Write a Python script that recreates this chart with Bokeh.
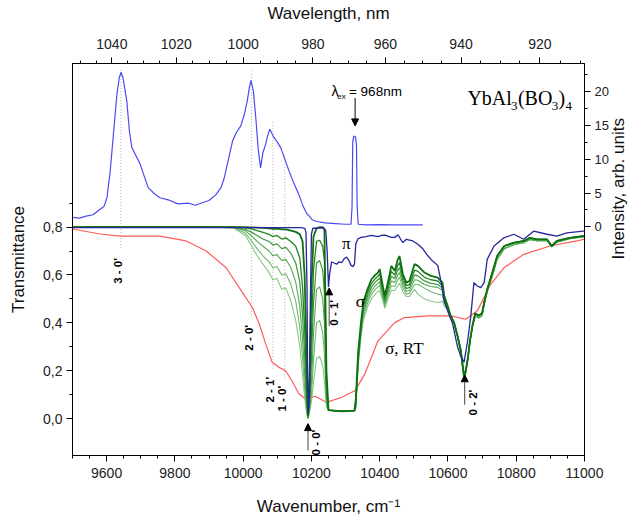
from math import pi
from bokeh.plotting import figure
from bokeh.models import (Range1d, LinearAxis, FixedTicker, CustomJSTickFormatter,
                          Arrow, NormalHead, Label)
from bokeh.embed import file_html
from bokeh.resources import INLINE

# ---------------- data ----------------
# luminescence spectrum (right axis, arb. units)
W_LUM = [9502, 9520, 9540, 9560, 9581, 9592, 9601, 9610, 9620, 9630, 9637, 9642, 9648, 9659, 9667, 9674,
         9686, 9698, 9710, 9722, 9740, 9756, 9780, 9809, 9840, 9860, 9882, 9900, 9921, 9935, 9945, 9957,
         9969, 9981, 9993, 10003, 10012, 10018, 10023, 10030, 10037, 10044, 10051, 10058, 10066, 10072,
         10078, 10084, 10090, 10100, 10110, 10122, 10134, 10148, 10163, 10176, 10187, 10194, 10201, 10215,
         10240, 10270, 10300, 10316, 10319, 10321, 10324, 10329, 10332, 10334, 10337, 10360, 10400, 10440,
         10480, 10526]
I_LUM = [1.4, 1.3, 1.6, 1.8, 2.6, 3.0, 4.3, 8.0, 13.7, 19.5, 22.0, 22.8, 22.0, 18.6, 14.0, 11.7,
         10.5, 9.3, 7.5, 5.8, 4.9, 4.3, 4.0, 3.4, 3.5, 3.2, 3.6, 3.9, 4.8, 5.8, 7.3, 10.0,
         12.7, 14.0, 14.9, 16.5, 18.6, 20.5, 21.6, 20.0, 16.1, 11.5, 8.7, 11.0, 12.2, 13.5,
         14.4, 13.8, 13.2, 12.5, 11.7, 10.0, 8.3, 6.5, 4.8, 3.0, 1.9, 1.6, 1.1, 0.8,
         0.6, 0.5, 0.4, 0.4, 3.0, 12.5, 13.4, 13.3, 12.0, 3.0, 0.4, 0.3, 0.35, 0.3,
         0.3, 0.3]

# sigma, room temperature (red)
W_RED = [9500, 9581, 9640, 9756, 9833, 9892, 9950, 9998, 10027, 10047, 10066, 10085, 10105, 10124, 10143,
         10163, 10182, 10211, 10244, 10289, 10328, 10357, 10395, 10444, 10473, 10541, 10608, 10652, 10686,
         10725, 10764, 10822, 10899, 10977, 11000]
T_RED = [.792, .771, .762, .762, .742, .70, .63, .526, .464, .396, .312, .235, .214, .20, .158,
         .104, .083, .093, .068, .089, .117, .188, .325, .401, .422, .429, .429, .415, .45,
         .561, .63, .686, .721, .742, .75]

# pi polarisation (navy)
W_PI = [9500, 10170, 10180, 10184, 10187, 10189, 10191, 10194, 10197, 10200, 10204, 10236, 10242, 10246,
        10250, 10253, 10259, 10266, 10274, 10281, 10289, 10296, 10303, 10310, 10316, 10322, 10326, 10330,
        10336, 10345, 10360, 10376, 10395, 10405, 10416, 10434, 10444, 10454, 10463, 10468, 10478, 10497,
        10512, 10527, 10541, 10555, 10570, 10580, 10589, 10604, 10613, 10628, 10637, 10647, 10657, 10667,
        10676, 10686, 10696, 10706, 10715, 10735, 10764, 10793, 10822, 10851, 10890, 10919, 10948, 10996, 11000]
T_PI = [.798, .798, .795, .78, .55, .15, .02, .10, .50, .77, .795, .797, .785, .70,
        .55, .60, .655, .65, .645, .655, .652, .668, .675, .66, .64, .635, .645, .73,
        .75, .757, .76, .765, .76, .765, .766, .757, .757, .768, .745, .735, .749, .742,
        .728, .708, .68, .658, .64, .57, .49, .43, .40, .30, .263, .235, .318, .429,
        .568, .554, .547, .568, .665, .721, .755, .77, .749, .783, .77, .762, .776, .783, .783]

# sigma polarisation, several temperatures (greens)
W_WING = [9500, 9900, 9974, 10006, 10023, 10041, 10058, 10076, 10087, 10099, 10113, 10125, 10140, 10154,
          10166, 10174, 10180, 10186, 10190, 10195, 10200, 10206, 10215, 10224, 10233, 10238, 10244]
G1_WING = [.80, .80, .80, .80, .799, .798, .797, .795, .793, .794, .79, .79, .785, .78, .77, .74, .60, .25,
           .01, .20, .55, .76, .795, .80, .80, .79, .20]
G2_WING = [.80, .80, .80, .797, .793, .785, .778, .77, .76, .765, .75, .755, .74, .72, .67, .55, .38, .12,
           .01, .10, .35, .62, .74, .745, .72, .66, .15]
G3_WING = [.80, .80, .80, .79, .78, .765, .75, .74, .725, .73, .71, .715, .69, .65, .57, .43, .27, .07,
           .005, .07, .25, .48, .65, .66, .62, .52, .10]
G4_WING = [.80, .80, .799, .785, .765, .74, .72, .70, .68, .685, .66, .665, .63, .57, .47, .33, .19, .05,
           0.0, .05, .15, .35, .54, .55, .50, .40, .08]
G5_WING = [.80, .80, .797, .775, .745, .71, .68, .655, .63, .635, .60, .605, .56, .49, .38, .25, .13, .03,
           0.0, .04, .10, .24, .40, .41, .36, .27, .06]
G6_WING = [.80, .80, .795, .765, .725, .68, .645, .61, .58, .585, .54, .545, .49, .41, .30, .18, .09, .02,
           0.0, .03, .07, .15, .25, .26, .22, .16, .05]

W_PLAT = [10250, 10290, 10326]
T_PLAT = [.035, .03, .033]

W_BAND = [10330, 10337, 10345, 10352, 10364, 10376, 10387, 10395, 10400, 10410, 10415, 10424, 10434, 10444,
          10453, 10458, 10468, 10478, 10487, 10502, 10512, 10531, 10550, 10570, 10584, 10589, 10599]
G1_BAND = [.08, .28, .40, .485, .54, .582, .60, .61, .624, .547, .513, .568, .638, .617, .665, .679, .603,
           .568, .575, .645, .638, .61, .596, .589, .568, .513, .471]
G2_BAND = [.07, .26, .38, .47, .525, .565, .585, .595, .605, .535, .50, .553, .615, .60, .64, .652, .59,
           .555, .56, .62, .615, .59, .58, .575, .555, .505, .468]
G3_BAND = [.06, .25, .37, .455, .51, .55, .57, .58, .588, .523, .49, .54, .595, .585, .62, .63, .575,
           .543, .548, .60, .596, .575, .565, .56, .545, .50, .466]
G4_BAND = [.05, .24, .36, .44, .495, .535, .555, .565, .572, .51, .48, .527, .575, .568, .60, .61, .56,
           .532, .535, .58, .578, .56, .552, .548, .535, .495, .464]
G5_BAND = [.045, .23, .35, .425, .48, .52, .54, .55, .556, .50, .47, .515, .555, .552, .58, .59, .547,
           .52, .523, .56, .56, .545, .53, .52, .515, .485, .462]
G6_BAND = [.04, .22, .34, .41, .465, .50, .52, .53, .535, .49, .46, .50, .535, .535, .555, .565, .53,
           .51, .51, .54, .52, .50, .49, .485, .49, .47, .455]

W_RIGHT = [10608, 10618, 10628, 10637, 10647, 10652, 10658, 10665, 10672, 10680, 10690, 10700, 10706,
           10715, 10730, 10744, 10765, 10794, 10823, 10840, 10860, 10890, 10904, 10919, 10956, 11000]
RIGHT_DARK = [.429, .401, .346, .29, .179, .20, .25, .33, .39, .44, .43, .44, .485,
              .54, .61, .679, .721, .735, .742, .755, .749, .749, .721, .742, .755, .763]
RIGHT_LIGHT = [.425, .395, .34, .28, .165, .19, .245, .325, .385, .43, .42, .43, .475,
               .53, .595, .665, .71, .727, .735, .748, .743, .743, .717, .737, .751, .76]

# transition markers (wavenumber, bottom / top of dotted line in transmittance units)
W_MARK = [9642, 10024, 10087, 10122]
MARK_LOW = [0.7125, 0.42, 0.208, 0.17]
MARK_HIGH = [1.4625, 1.45, 1.24, 1.108]

# axis ticks
X_MAJOR = [9600, 9800, 10000, 10200, 10400, 10600, 10800, 11000]
X_MINOR = [9500, 9550, 9650, 9700, 9750, 9850, 9900, 9950, 10050, 10100, 10150, 10250, 10300, 10350,
           10450, 10500, 10550, 10650, 10700, 10750, 10850, 10900, 10950]
NM_MAJOR = [1040, 1020, 1000, 980, 960, 940, 920]
NM_MINOR = [1050, 1045, 1035, 1030, 1025, 1015, 1010, 1005, 995, 990, 985, 975, 970, 965, 955, 950,
            945, 935, 930, 925, 915, 910]
T_MAJOR = [0.0, 0.2, 0.4, 0.6, 0.8]
T_MINOR = [0.1, 0.3, 0.5, 0.7, 0.9]
I_MAJOR = [0, 5, 10, 15, 20]
I_MINOR = [2.5, 7.5, 12.5, 17.5, 22.5]

SANS = "Liberation Sans"
SERIF = "Liberation Serif"

# ---------------- figure ----------------
p = figure(width=640, height=524, output_backend="svg", toolbar_location=None,
           x_range=Range1d(9500, 11000), y_range=Range1d(-0.1542, 1.4833),
           min_border_left=72, min_border_right=52, min_border_top=62, min_border_bottom=69)
p.extra_y_ranges = {"lum": Range1d(-33.7, 24.1)}
p.xgrid.visible = False
p.ygrid.visible = False
p.outline_line_color = "black"
p.outline_line_width = 1
p.background_fill_color = "white"
p.border_fill_color = "white"


def style_axis(ax, size="14px"):
    ax.axis_line_color = "black"
    ax.major_tick_line_color = "black"
    ax.minor_tick_line_color = "black"
    ax.major_tick_in = 0
    ax.major_tick_out = 6
    ax.minor_tick_in = 0
    ax.minor_tick_out = 3
    ax.major_label_text_font = SANS
    ax.major_label_text_font_size = size
    ax.major_label_text_color = "#222222"
    ax.axis_label_text_font = SANS
    ax.axis_label_text_font_size = "17px"
    ax.axis_label_text_font_style = "normal"
    ax.axis_label_text_color = "#111111"


bx = p.xaxis[0]
bx.ticker = FixedTicker(ticks=X_MAJOR, minor_ticks=X_MINOR)
bx.axis_label = "Wavenumber, cm\u207b\u00b9"
style_axis(bx)
bx.major_label_standoff = 6
bx.axis_label_standoff = 16

ly = p.yaxis[0]
ly.ticker = FixedTicker(ticks=T_MAJOR, minor_ticks=T_MINOR)
ly.formatter = CustomJSTickFormatter(code="return tick.toFixed(1).replace('.', ',');")
ly.axis_label = "Transmittance"
style_axis(ly)
ly.major_label_standoff = 4
ly.axis_label_standoff = 12

top = LinearAxis(ticker=FixedTicker(ticks=[1e7 / v for v in NM_MAJOR],
                                    minor_ticks=[1e7 / v for v in NM_MINOR]),
                 formatter=CustomJSTickFormatter(code="return Math.round(1e7 / tick).toString();"),
                 axis_label="Wavelength, nm")
style_axis(top)
top.major_label_standoff = 9
top.axis_label_standoff = 13
p.add_layout(top, "above")

right = LinearAxis(y_range_name="lum", ticker=FixedTicker(ticks=I_MAJOR, minor_ticks=I_MINOR),
                   axis_label="Intensity, arb. units")
style_axis(right, "13px")
right.major_label_standoff = 4
right.axis_label_standoff = 7
try:
    right.axis_label_orientation = pi / 2
except Exception:
    pass
p.add_layout(right, "right")

# ---------------- curves ----------------
p.segment(x0=W_MARK, y0=MARK_LOW, x1=W_MARK, y1=MARK_HIGH, line_color="#b0b0b0",
          line_width=1, line_dash="1 2")

p.line(W_RED, T_RED, line_color="#ff5a5a", line_width=1.2)

greens = [
    (G6_WING, G6_BAND, RIGHT_LIGHT, "#86c886", 1.1),
    (G5_WING, G5_BAND, RIGHT_LIGHT, "#6cb86c", 1.1),
    (G4_WING, G4_BAND, RIGHT_LIGHT, "#55a955", 1.1),
    (G3_WING, G3_BAND, RIGHT_DARK, "#3c983c", 1.2),
    (G2_WING, G2_BAND, RIGHT_DARK, "#248424", 1.3),
    (G1_WING, G1_BAND, RIGHT_DARK, "#0e700e", 1.8),
]
for wing, band, rgt, col, lw in greens:
    xs = W_WING + W_PLAT + W_BAND + W_RIGHT
    ys = wing + T_PLAT + band + rgt
    p.line(xs, ys, line_color=col, line_width=lw)

p.line(W_PI, T_PI, line_color="#26269a", line_width=1.3)

p.line(W_LUM, I_LUM, y_range_name="lum", line_color="#4a4af5", line_width=1.2)

# ---------------- annotations ----------------
def add_label(x, y, text, font=SANS, size="11px", angle=0.0, align="center", baseline="middle",
              style="normal", y_range_name="default", color="black"):
    p.add_layout(Label(x=x, y=y, text=text, text_font=font, text_font_size=size, angle=angle,
                       text_align=align, text_baseline=baseline, text_font_style=style,
                       text_color=color, y_range_name=y_range_name))


for x, y, t in [(9634, 0.617, "3 - 0'"), (10017, 0.3375, "2 - 0'"), (10078, 0.121, "2 - 1'"),
                (10113, 0.083, "1 - 0'"), (10213, -0.10, "0 - 0'"), (10266, 0.442, "0 - 1'"),
                (10673, 0.067, "0 - 2'")]:
    add_label(x, y, t, size="11.5px", angle=pi / 2, style="bold")

head = dict(size=7, fill_color="black", line_color="black")
for x, y0, y1 in [(10190, -0.133, -0.021), (10252, 0.3875, 0.546), (10649, 0.058, 0.183)]:
    p.add_layout(Arrow(end=NormalHead(**head), x_start=x, y_start=y0, x_end=x, y_end=y1,
                       line_color="#444444", line_width=1))

p.add_layout(Arrow(end=NormalHead(**head), x_start=10328, y_start=19.0, x_end=10328, y_end=14.9,
                   line_color="black", line_width=1, y_range_name="lum"))

add_label(10259, 20.0, "\u03bb", font=SANS, size="14px", align="left", baseline="alphabetic",
          y_range_name="lum")
add_label(10276, 19.2, "ex", font=SANS, size="8px", align="left", baseline="alphabetic",
          y_range_name="lum")
add_label(10310, 20.0, "= 968nm", font=SANS, size="13.5px", align="left", baseline="alphabetic",
          y_range_name="lum")

# YbAl3(BO3)4
add_label(10657, 1.3375, "YbAl", font=SERIF, size="20px", align="left", baseline="alphabetic")
add_label(10785, 1.304, "3", font=SERIF, size="13px", align="left", baseline="alphabetic")
add_label(10805, 1.3375, "(BO", font=SERIF, size="20px", align="left", baseline="alphabetic")
add_label(10904, 1.304, "3", font=SERIF, size="13px", align="left", baseline="alphabetic")
add_label(10924, 1.3375, ")", font=SERIF, size="20px", align="left", baseline="alphabetic")
add_label(10944, 1.304, "4", font=SERIF, size="13px", align="left", baseline="alphabetic")

add_label(10302, 0.733, "\u03c0", font=SERIF, size="17px")
add_label(10343, 0.489, "\u03c3", font=SERIF, size="17px")
add_label(10416, 0.292, "\u03c3, RT", font=SERIF, size="17px", align="left")

open("out.html", "w").write(file_html(p, INLINE))
